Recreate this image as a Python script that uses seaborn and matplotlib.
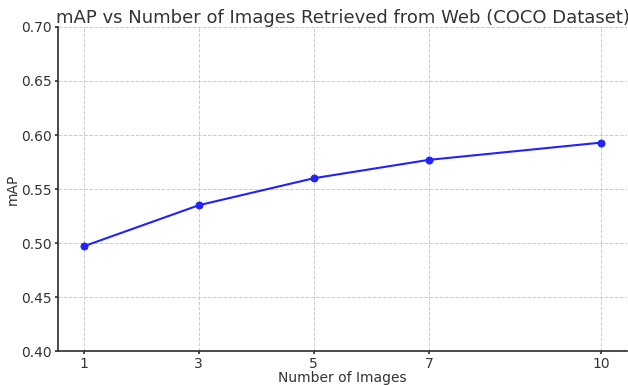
import seaborn as sns
import matplotlib.pyplot as plt
import pandas as pd

# data
num_images = [1, 3, 5, 7, 10]
map_scores = [0.497, 0.535, 0.560, 0.577, 0.593]

df = pd.DataFrame({"Number of Images": num_images, "mAP": map_scores})

sns.set_theme(style="ticks")
plt.rcParams['font.family'] = ['DejaVu Sans']

fig, ax = plt.subplots(figsize=(6.28, 3.85), dpi=100)
fig.subplots_adjust(left=0.092, right=0.999, top=0.93, bottom=0.088)

sns.lineplot(data=df, x="Number of Images", y="mAP", marker="o", color="#2222ff",
             markeredgecolor="#2222ff", markersize=5, linewidth=1.5, ax=ax)

ax.set_title("mAP vs Number of Images Retrieved from Web (COCO Dataset)",
             fontsize=13, color="#333333", pad=3)
ax.set_xlabel("Number of Images", fontsize=10, color="#333333", labelpad=0)
ax.set_ylabel("mAP", fontsize=10, color="#333333", labelpad=0.5)
ax.set_xticks(num_images)
ax.set_ylim(0.40, 0.70)
ax.set_yticks([0.40, 0.45, 0.50, 0.55, 0.60, 0.65, 0.70])
ax.set_yticklabels([f"{v:.2f}" for v in ax.get_yticks()])
ax.tick_params(labelsize=10, colors="#333333", length=2.5, pad=2)
ax.grid(True, linestyle="--", color="#cccccc", linewidth=0.7)
sns.despine(ax=ax)
for s in ["left", "bottom"]:
    ax.spines[s].set_color("#333333")

plt.savefig("out.png", dpi=100)
